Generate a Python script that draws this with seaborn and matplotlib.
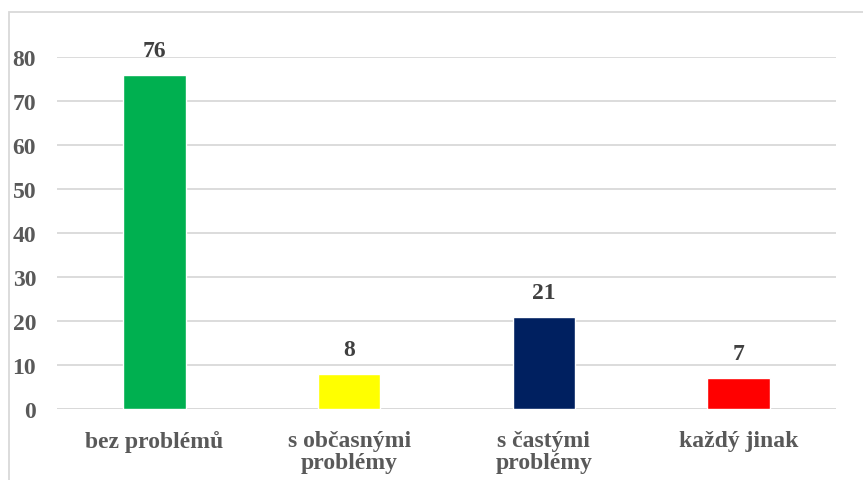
import matplotlib
matplotlib.use("Agg")
import matplotlib.pyplot as plt
import seaborn as sns
import pandas as pd
from matplotlib.patches import Rectangle

categories = ["bez problémů", "s občasnými\nproblémy", "s častými\nproblémy", "každý jinak"]
values = [76, 8, 21, 7]
colors = ["#00B050", "#FFFF00", "#002060", "#FF0000"]
yticks = [0, 10, 20, 30, 40, 50, 60, 70, 80]

sns.set_theme(style="white")
plt.rcParams['font.family'] = ['Liberation Serif', 'DejaVu Serif']

df = pd.DataFrame({"cat": categories, "val": values})

fig = plt.figure(figsize=(8.63, 4.81), dpi=100)
W, H = 863, 481
ax = fig.add_axes([57 / W, 1 - 410 / H, (836 - 57) / W, (410 - 58) / H])

sns.barplot(data=df, x="cat", y="val", hue="cat", palette=colors, legend=False,
            width=0.32, ax=ax, saturation=1)

ax.set_ylim(0, 80)
ax.set_yticks(yticks)
ax.set_xlim(-0.5, 3.5)
ax.yaxis.grid(True, color="#D9D9D9", linewidth=1.3)
ax.set_axisbelow(True)
for s in ["top", "right", "left", "bottom"]:
    ax.spines[s].set_visible(False)
ax.axhline(0, color="#D9D9D9", linewidth=1.3, zorder=0)
ax.set_xlabel("")
ax.set_ylabel("")
ax.tick_params(axis="y", length=0, pad=15, labelsize=17, labelcolor="#595959")
ax.tick_params(axis="x", length=0, pad=15, labelsize=17, labelcolor="#595959")
for lbl in ax.get_yticklabels() + ax.get_xticklabels():
    lbl.set_fontweight("bold")
for lbl in ax.get_xticklabels():
    lbl.set_linespacing(1.08)

for i, v in enumerate(values):
    ax.annotate(str(v), (i, v), xytext=(0, 10), textcoords="offset points",
                ha="center", va="bottom", fontsize=17, fontweight="bold",
                color="#404040", clip_on=False)

fig.patches.append(Rectangle((9 / W, -0.1), 1.2, 1.1 - 13 / H, transform=fig.transFigure,
                             fill=False, edgecolor="#D9D9D9", linewidth=1.3))

fig.savefig("out.png", dpi=100)
